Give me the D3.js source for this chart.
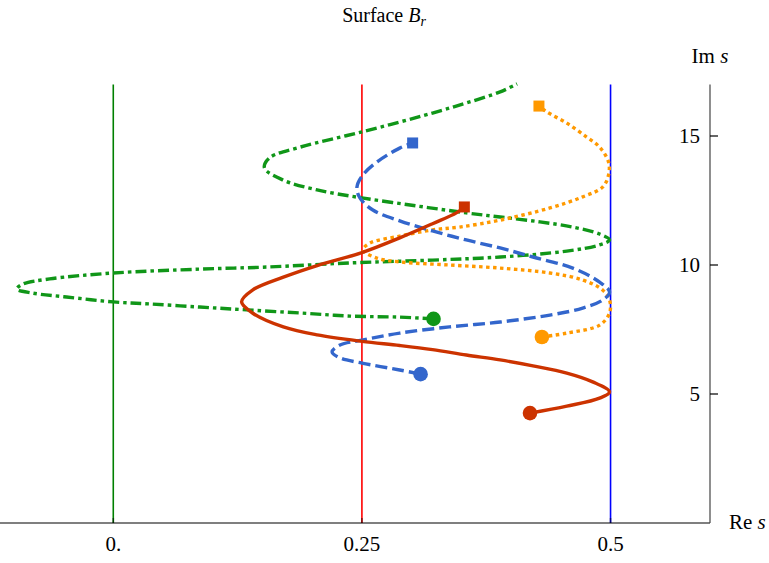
<!DOCTYPE html>
<html>
<head>
<meta charset="utf-8">
<script src="https://cdn.jsdelivr.net/npm/d3@7"></script>
<style>
  body { margin: 0; background: #fff; }
  text { font-family: "Liberation Serif", "DejaVu Serif", serif; fill: #000; }
</style>
</head>
<body>
<div id="chart"></div>
<script>
// curve traces, [Re s, Im s]
const redPts = [[0.419,4.26],[0.456,4.53],[0.489,4.84],[0.499,5.08],[0.482,5.47],[0.456,5.81],
  [0.422,6.09],[0.389,6.32],[0.355,6.51],[0.321,6.72],[0.288,6.88],[0.250,7.04],
  [0.205,7.29],[0.171,7.60],[0.140,8.14],[0.129,8.57],[0.140,9.03],[0.171,9.53],[0.205,9.98],
  [0.250,10.48],[0.288,11.05],[0.321,11.60],[0.345,12.02],[0.353,12.25]];

const bluePts = [[0.309,5.77],[0.288,5.93],[0.250,6.20],[0.228,6.40],[0.220,6.63],[0.228,6.90],
  [0.250,7.09],[0.288,7.36],[0.338,7.60],[0.389,7.79],[0.439,8.06],[0.472,8.33],[0.492,8.64],
  [0.499,8.95],[0.489,9.34],[0.462,9.88],[0.422,10.31],[0.389,10.66],[0.355,10.97],[0.321,11.32],
  [0.288,11.71],[0.261,12.13],[0.248,12.60],[0.245,13.02],[0.251,13.49],[0.265,13.99],
  [0.288,14.53],[0.301,14.73]];

const orangePts = [[0.431,7.21],[0.456,7.36],[0.489,7.67],[0.499,8.14],[0.499,8.64],[0.492,9.03],
  [0.472,9.42],[0.439,9.69],[0.389,9.88],[0.338,10.00],[0.288,10.12],[0.265,10.27],[0.251,10.58],
  [0.258,10.85],[0.288,11.12],[0.321,11.36],[0.348,11.47],[0.389,11.74],[0.439,12.21],
  [0.472,12.64],[0.492,13.02],[0.498,13.49],[0.498,13.99],[0.489,14.57],[0.476,14.96],
  [0.456,15.50],[0.436,15.93],[0.428,16.16]];

const greenPts = [[0.322,7.91],[0.288,7.98],[0.238,8.02],[0.188,8.14],[0.134,8.26],[0.087,8.37],
  [0.037,8.49],[0.000,8.57],[-0.047,8.76],[-0.081,8.91],[-0.097,9.07],[-0.091,9.26],[-0.064,9.46],
  [0.000,9.69],[0.087,9.84],[0.154,9.92],[0.238,10.08],[0.321,10.19],[0.389,10.31],[0.456,10.54],
  [0.489,10.78],[0.499,10.97],[0.489,11.20],[0.462,11.47],[0.429,11.67],[0.389,11.86],
  [0.355,12.02],[0.305,12.29],[0.250,12.60],[0.205,12.91],[0.171,13.29],[0.152,13.76],
  [0.157,14.15],[0.188,14.57],[0.250,15.16],[0.321,15.89],[0.355,16.28],[0.389,16.71],[0.406,17.02]];

const vLines = [0, 0.25, 0.5];
const vLineColors = ["#008000", "#ff0000", "#0000ff"];
const xTicks = [0, 0.25, 0.5];
const xTickLabels = ["0.", "0.25", "0.5"];
const yTicks = [5, 10, 15];

const width = 769, height = 563;

const svg = d3.select("#chart")
    .append("svg")
    .attr("width", width)
    .attr("height", height);

const x = d3.scaleLinear().domain([-0.1139, 0.6]).range([0, 710]);
const y = d3.scaleLinear().domain([0, 17]).range([523, 84.4]);

// reference lines at Re s = 0, 1/4, 1/2
svg.selectAll(".vline")
    .data(vLines)
    .join("line")
    .attr("x1", d => x(d)).attr("x2", d => x(d))
    .attr("y1", y(0)).attr("y2", y(17))
    .attr("stroke", (d, i) => vLineColors[i])
    .attr("stroke-width", 1.6);

// axes
svg.append("line")
    .attr("x1", x.range()[0]).attr("x2", x.range()[1])
    .attr("y1", y(0)).attr("y2", y(0))
    .attr("stroke", "#000").attr("stroke-width", 1.2);
svg.append("line")
    .attr("x1", x(0.6)).attr("x2", x(0.6))
    .attr("y1", y(0)).attr("y2", y(17))
    .attr("stroke", "#444").attr("stroke-width", 1.2);

svg.selectAll(".ytick")
    .data(yTicks)
    .join("line")
    .attr("x1", x(0.6)).attr("x2", x(0.6) + 8)
    .attr("y1", d => y(d)).attr("y2", d => y(d))
    .attr("stroke", "#000").attr("stroke-width", 1.2);

svg.selectAll(".ylab")
    .data(yTicks)
    .join("text")
    .attr("x", x(0.6) - 10)
    .attr("y", d => y(d) + 7)
    .attr("text-anchor", "end")
    .style("font-size", "21px")
    .text(d => d);

svg.selectAll(".xtick")
    .data(xTicks)
    .join("line")
    .attr("x1", d => x(d)).attr("x2", d => x(d))
    .attr("y1", y(0)).attr("y2", y(0) - 5)
    .attr("stroke", "#000").attr("stroke-opacity", 0.5).attr("stroke-width", 1.6);

svg.selectAll(".xlab")
    .data(xTicks)
    .join("text")
    .attr("x", d => x(d))
    .attr("y", 551)
    .attr("text-anchor", "middle")
    .style("font-size", "21px")
    .text((d, i) => xTickLabels[i]);

// axis labels and title
const im = svg.append("text").attr("x", 710).attr("y", 63)
    .attr("text-anchor", "middle").style("font-size", "21px");
im.append("tspan").text("Im ");
im.append("tspan").attr("font-style", "italic").text("s");

const re = svg.append("text").attr("x", 729).attr("y", 529)
    .style("font-size", "21px");
re.append("tspan").text("Re ");
re.append("tspan").attr("font-style", "italic").text("s");

const title = svg.append("text").attr("x", 384).attr("y", 22)
    .attr("text-anchor", "middle").style("font-size", "20px");
title.append("tspan").text("Surface ");
title.append("tspan").attr("font-style", "italic").text("B");
title.append("tspan").attr("font-style", "italic").attr("dy", 4)
    .style("font-size", "14px").text("r");

// trajectories
const line = d3.line()
    .x(d => x(d[0]))
    .y(d => y(d[1]))
    .curve(d3.curveCatmullRom.alpha(0.5));

const series = [
  {pts: greenPts, color: "#109618", dash: "11,4,3.5,4"},
  {pts: orangePts, color: "#ff9900", dash: "3.5,3.5"},
  {pts: bluePts, color: "#3366cc", dash: "12,5"},
  {pts: redPts, color: "#cc3300", dash: null}
];

series.forEach(s => {
    svg.append("path")
        .datum(s.pts)
        .attr("d", line)
        .attr("fill", "none")
        .attr("stroke", s.color)
        .attr("stroke-width", 3.4)
        .attr("stroke-dasharray", s.dash);
});

// start (circle) and end (square) markers; green runs off the top
series.forEach(s => {
    const a = s.pts[0];
    svg.append("circle")
        .attr("cx", x(a[0])).attr("cy", y(a[1]))
        .attr("r", 7.3)
        .attr("fill", s.color);
    if (s.pts !== greenPts) {
        const b = s.pts[s.pts.length - 1];
        svg.append("rect")
            .attr("x", x(b[0]) - 5.5).attr("y", y(b[1]) - 5.5)
            .attr("width", 11).attr("height", 11)
            .attr("fill", s.color);
    }
});
</script>
</body>
</html>
